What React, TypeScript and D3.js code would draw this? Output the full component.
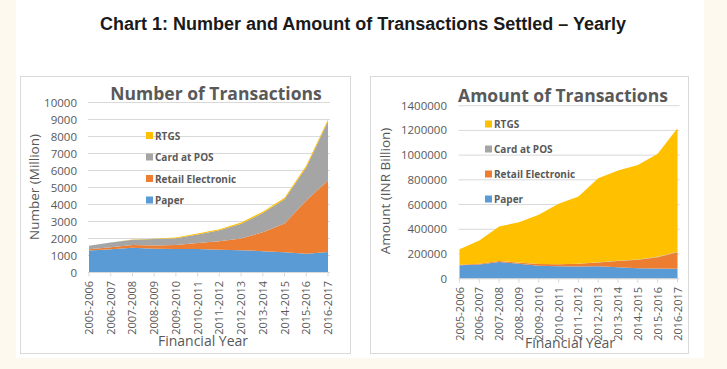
import React from "react";
import * as d3 from "d3";

const years = ["2005-2006","2006-2007","2007-2008","2008-2009","2009-2010","2010-2011","2011-2012","2012-2013","2013-2014","2014-2015","2015-2016","2016-2017"];
const seriesNames = ["Paper","Retail Electronic","Card at POS","RTGS"];
const colors = ["#5B9BD5","#ED7D31","#A5A5A5","#FFC000"];

// Number of transactions (million)
const numPaper = [1287,1367,1460,1397,1380,1387,1342,1313,1257,1196,1096,1207];
const numRetail = [83,112,154,188,235,350,500,694,1108,1688,3142,4205];
const numCard = [200,289,316,387,404,502,647,866,1128,1424,1958,3486];
const numRTGS = [2,4,6,13,33,49,55,69,81,93,98,108];
const numTicks = [0,1000,2000,3000,4000,5000,6000,7000,8000,9000,10000];

// Amount of transactions (INR billion)
const amtPaper = [108000,115000,135000,120000,105000,100000,99000,100000,93000,85000,82000,81000];
const amtRetail = [4000,6000,8000,10000,13000,16000,21000,31000,50000,68000,92000,133000];
const amtCard = [300,400,600,700,800,1000,1200,1500,1800,2300,2900,3300];
const amtRTGS = [126000,187000,278000,327000,398000,490000,543000,680000,730000,765000,835000,1000000];
const amtTicks = [0,200000,400000,600000,800000,1000000,1200000,1400000];

type PanelProps = {
  box: { x: number; y: number; w: number; h: number };
  plot: { x0: number; x1: number; y0: number; y1: number };
  data: number[][];
  ticks: number[];
  maxY: number;
  title: string;
  titleX: number;
  titleY: number;
  yTitle: string;
  yTitleX: number;
  yTitleY: number;
  labelRight: number;
  legendX: number;
  legendY: number;
  legendStep: number;
  xLabelTop: number;
  xTitleX: number;
  xTitleY: number;
};

const font = "Open Sans, Lato, sans-serif";
const textCol = "#595959";

function Panel(p: PanelProps) {
  const x = d3.scalePoint<string>().domain(years).range([p.plot.x0, p.plot.x1]);
  const y = d3.scaleLinear().domain([0, p.maxY]).range([p.plot.y0, p.plot.y1]);
  const rows = years.map((yr, i) => {
    const o: any = { year: yr };
    seriesNames.forEach((s, k) => (o[s] = p.data[k][i]));
    return o;
  });
  const stacked = d3.stack<any>().keys(seriesNames)(rows);
  const area = d3
    .area<any>()
    .x((d) => x(d.data.year) as number)
    .y0((d) => y(d[0]))
    .y1((d) => y(d[1]));
  const legendOrder = [3, 2, 1, 0];
  return (
    <g>
      <rect x={p.box.x} y={p.box.y} width={p.box.w} height={p.box.h} fill="#fff" stroke="#D9D9D9" strokeWidth={1} />
      {p.ticks.map((t) => (
        <g key={t}>
          <line x1={p.plot.x0 - 1} x2={p.plot.x1 + 2} y1={y(t)} y2={y(t)} stroke="#D9D9D9" strokeWidth={1} />
          <text x={p.labelRight} y={y(t) + 4} textAnchor="end" fontSize={11.5} fill={textCol} fontFamily={font}>
            {t}
          </text>
        </g>
      ))}
      {stacked.map((s, k) => (
        <path key={s.key} d={area(s) as string} fill={colors[k]} />
      ))}
      <line x1={p.plot.x0} x2={p.plot.x1} y1={y(0)} y2={y(0)} stroke="#D9D9D9" />
      {years.map((yr) => (
        <g key={yr}>
          <line x1={x(yr)} x2={x(yr)} y1={y(0)} y2={y(0) + 4} stroke="#D9D9D9" />
          <text
            transform={`translate(${(x(yr) as number) + 4},${p.xLabelTop}) rotate(-90)`}
            textAnchor="end"
            fontSize={11}
            fill={textCol}
            fontFamily={font}
          >
            {yr}
          </text>
        </g>
      ))}
      <text x={p.titleX} y={p.titleY} textAnchor="middle" fontSize={17.5} fontWeight="bold" fill={textCol} fontFamily={font}>
        {p.title}
      </text>
      <text
        transform={`translate(${p.yTitleX},${p.yTitleY}) rotate(-90)`}
        textAnchor="middle"
        fontSize={13.5}
        fill={textCol}
        fontFamily={font}
      >
        {p.yTitle}
      </text>
      <text x={p.xTitleX} y={p.xTitleY} textAnchor="middle" fontSize={14} fill={textCol} fontFamily={font}>
        Financial Year
      </text>
      {legendOrder.map((k, i) => (
        <g key={k}>
          <rect x={p.legendX} y={p.legendY + i * p.legendStep - 4} width={7} height={7} fill={colors[k]} />
          <text x={p.legendX + 9} y={p.legendY + i * p.legendStep + 3.5} fontSize={10} fontWeight="bold" fill={textCol} fontFamily={font}>
            {seriesNames[k]}
          </text>
        </g>
      ))}
    </g>
  );
}

export default function App() {
  return (
    <svg width={727} height={369} style={{ position: "absolute", left: 0, top: 0, display: "block" }}>
      <rect x={0} y={0} width={727} height={369} fill="#FEF9EE" />
      <rect x={16} y={0} width={688} height={358} fill="#FFFFFF" />
      <text x={363} y={30} textAnchor="middle" fontSize={18} fontWeight="bold" fill="#1a1a1a" fontFamily="Liberation Sans, Arial, sans-serif">
        Chart 1: Number and Amount of Transactions Settled – Yearly
      </text>
      <Panel
        box={{ x: 20.5, y: 76.5, w: 330, h: 277 }}
        plot={{ x0: 89, x1: 328, y0: 272.5, y1: 102.5 }}
        data={[numPaper, numRetail, numCard, numRTGS]}
        ticks={numTicks}
        maxY={10000}
        title="Number of Transactions"
        titleX={216}
        titleY={100}
        yTitle="Number (Million)"
        yTitleX={39}
        yTitleY={187}
        labelRight={77}
        legendX={146}
        legendY={136}
        legendStep={21.5}
        xLabelTop={281}
        xTitleX={203}
        xTitleY={346}
      />
      <Panel
        box={{ x: 370.5, y: 76.5, w: 318, h: 277 }}
        plot={{ x0: 459.5, x1: 677.5, y0: 278.7, y1: 105.7 }}
        data={[amtPaper, amtRetail, amtCard, amtRTGS]}
        ticks={amtTicks}
        maxY={1400000}
        title="Amount of Transactions"
        titleX={563}
        titleY={102}
        yTitle="Amount (INR Billion)"
        yTitleX={390}
        yTitleY={191}
        labelRight={447}
        legendX={485}
        legendY={124.5}
        legendStep={25}
        xLabelTop={287}
        xTitleX={570}
        xTitleY={348}
      />
    </svg>
  );
}
